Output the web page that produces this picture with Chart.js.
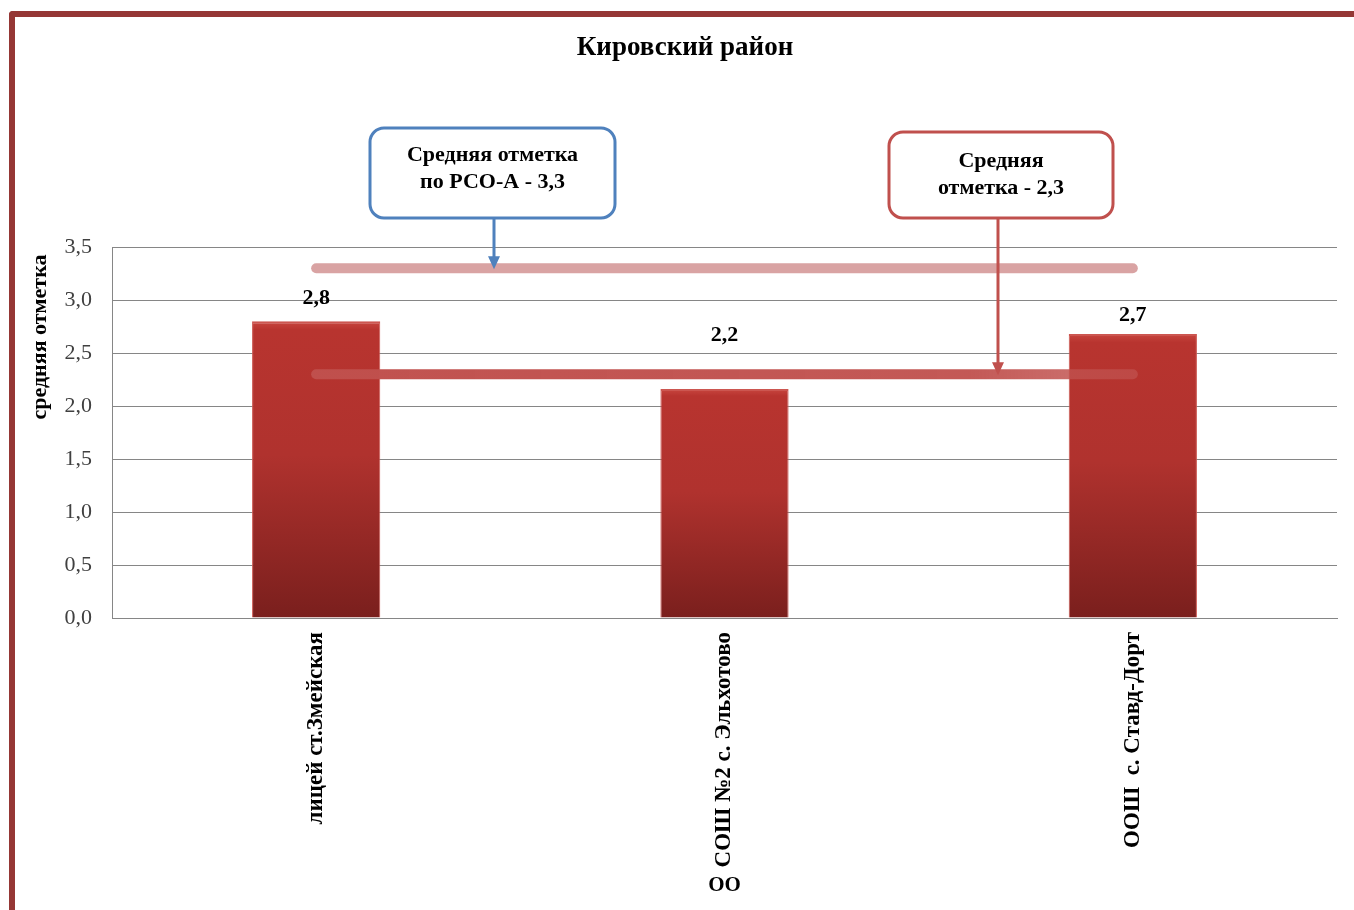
<!DOCTYPE html>
<html>
<head>
<meta charset="utf-8">
<title>Кировский район</title>
<script src="https://cdn.jsdelivr.net/npm/chart.js@4.4.1/dist/chart.umd.min.js"></script>
<style>
  html, body { margin: 0; padding: 0; background: #fff; overflow: hidden; }
  #frame {
    position: absolute; left: 9px; top: 11px; width: 1400px; height: 1000px;
    border-left: 6px solid #953735; border-top: 6px solid #953735;
    border-top-left-radius: 4px;
  }
  #wrap { position: absolute; left: 0; top: 0; width: 1354px; height: 910px; }
</style>
</head>
<body>
<div id="frame"></div>
<div id="wrap"><canvas id="chart"></canvas></div>
<script>
// data
const schools = ["лицей ст.Змейская", "СОШ №2 с. Эльхотово", "ООШ  с. Ставд-Дорт"];
const avgMarks = [2.8, 2.16, 2.68];
const regionAvg = 3.3;     // по РСО-А
const districtAvg = 2.3;   // по району
const yMin = 0, yMax = 3.5, yStep = 0.5;
const chartTitle = "Кировский район";
const yTitle = "средняя отметка";
const xTitle = "ОО";
const regionText = ["Средняя отметка", "по РСО-А - 3,3"];
const districtText = ["Средняя", "отметка - 2,3"];

const SERIF = "'Liberation Serif', 'DejaVu Serif', serif";
const fmt = (v) => v.toFixed(1).replace(".", ",");

// shaded red bars
function barFill(context) {
  const chart = context.chart;
  const area = chart.chartArea;
  if (!area) return "#b3342f";
  const top = chart.scales.y.getPixelForValue(context.raw);
  const g = chart.ctx.createLinearGradient(0, top, 0, area.bottom);
  g.addColorStop(0, "#c8463f");
  g.addColorStop(0.03, "#b8342f");
  g.addColorStop(0.45, "#b0322e");
  g.addColorStop(1, "#7a1f1d");
  return g;
}

function districtLineColor(context) {
  const area = context.chart.chartArea;
  if (!area) return "#c0504d";
  const g = context.chart.ctx.createLinearGradient(area.left, 0, area.right, 0);
  g.addColorStop(0, "rgba(192,80,77,1)");
  g.addColorStop(0.7, "rgba(192,80,77,0.95)");
  g.addColorStop(0.85, "rgba(192,80,77,0.75)");
  g.addColorStop(1, "rgba(192,80,77,0.7)");
  return g;
}

// value labels above bars (the middle one was lifted off the line in the original)
const labelLift = [23, 54, 19];
const barLabels = {
  id: "barLabels",
  afterDatasetsDraw(chart) {
    const ctx = chart.ctx;
    const meta = chart.getDatasetMeta(2);
    ctx.save();
    ctx.font = "bold 22px " + SERIF;
    ctx.fillStyle = "#000";
    ctx.textAlign = "center";
    ctx.textBaseline = "middle";
    meta.data.forEach((bar, i) => {
      ctx.fillText(fmt(avgMarks[i]), bar.x, bar.y - labelLift[i]);
    });
    ctx.restore();
  }
};

// callout boxes with arrows down to the average lines
const callouts = {
  id: "callouts",
  afterDatasetsDraw(chart) {
    const ctx = chart.ctx;
    const y = chart.scales.y;
    const boxes = [
      { x: 370, y: 128, w: 245, h: 90, ax: 494, value: regionAvg, color: "#4f81bd", lines: regionText, ty: [155, 182] },
      { x: 889, y: 132, w: 224, h: 86, ax: 998, value: districtAvg, color: "#c0504d", lines: districtText, ty: [161, 188] }
    ];
    ctx.save();
    boxes.forEach(b => {
      const tip = y.getPixelForValue(b.value);
      ctx.strokeStyle = b.color;
      ctx.fillStyle = b.color;
      ctx.lineWidth = 3;
      ctx.beginPath();
      ctx.moveTo(b.ax, b.y + b.h);
      ctx.lineTo(b.ax, tip - 10);
      ctx.stroke();
      ctx.beginPath();
      ctx.moveTo(b.ax - 6, tip - 12);
      ctx.lineTo(b.ax + 6, tip - 12);
      ctx.lineTo(b.ax, tip + 1);
      ctx.closePath();
      ctx.fill();

      ctx.beginPath();
      ctx.roundRect(b.x, b.y, b.w, b.h, 14);
      ctx.fillStyle = "#fff";
      ctx.fill();
      ctx.stroke();

      ctx.fillStyle = "#000";
      ctx.font = "bold 22px " + SERIF;
      ctx.textAlign = "center";
      ctx.textBaseline = "middle";
      b.lines.forEach((t, i) => ctx.fillText(t, b.x + b.w / 2, b.ty[i]));
    });
    ctx.restore();
  }
};

// chart title and y axis title, placed as in the original
const titles = {
  id: "titles",
  afterDraw(chart) {
    const ctx = chart.ctx;
    ctx.save();
    ctx.fillStyle = "#000";
    ctx.textAlign = "center";
    ctx.textBaseline = "middle";
    ctx.font = "bold 27px " + SERIF;
    ctx.fillText(chartTitle, 685, 48);

    ctx.translate(40, 337);
    ctx.rotate(-Math.PI / 2);
    ctx.font = "bold 22px " + SERIF;
    ctx.fillText(yTitle, 0, 0);
    ctx.restore();
  }
};

new Chart(document.getElementById("chart"), {
  data: {
    labels: schools,
    datasets: [
      {
        type: "line",
        data: schools.map(() => regionAvg),
        borderColor: "#d9a3a3",
        borderWidth: 10,
        borderCapStyle: "round",
        pointRadius: 0,
        order: 0
      },
      {
        type: "line",
        data: schools.map(() => districtAvg),
        borderColor: districtLineColor,
        borderWidth: 10,
        borderCapStyle: "round",
        pointRadius: 0,
        order: 0
      },
      {
        type: "bar",
        data: avgMarks,
        backgroundColor: barFill,
        borderColor: "#cc5650",
        borderWidth: { top: 2, left: 1, right: 1, bottom: 0 },
        borderSkipped: "bottom",
        barPercentage: 0.314,
        categoryPercentage: 1,
        order: 1
      }
    ]
  },
  options: {
    responsive: true,
    maintainAspectRatio: false,
    animation: false,
    layout: { padding: { left: 0, right: 17, top: 247, bottom: 0 } },
    plugins: {
      legend: { display: false },
      tooltip: { enabled: false },
      title: { display: false }
    },
    scales: {
      x: {
        grid: { display: false, drawTicks: false },
        border: { color: "#868686" },
        ticks: {
          color: "#000",
          font: { family: SERIF, size: 23, weight: "bold" },
          minRotation: 90,
          maxRotation: 90,
          padding: 14
        },
        title: {
          display: true,
          text: xTitle,
          color: "#000",
          font: { family: SERIF, size: 21, weight: "bold" },
          padding: { top: 4, bottom: 12 }
        },
        afterFit(scale) { scale.height = 292; }
      },
      y: {
        min: yMin,
        max: yMax,
        grid: { color: "#868686", drawTicks: false },
        border: { color: "#868686" },
        ticks: {
          stepSize: yStep,
          color: "#404040",
          font: { family: SERIF, size: 22 },
          padding: 20,
          callback: (v) => fmt(v)
        },
        afterFit(scale) { scale.width = 112; }
      }
    }
  },
  plugins: [barLabels, callouts, titles]
});
</script>
</body>
</html>
